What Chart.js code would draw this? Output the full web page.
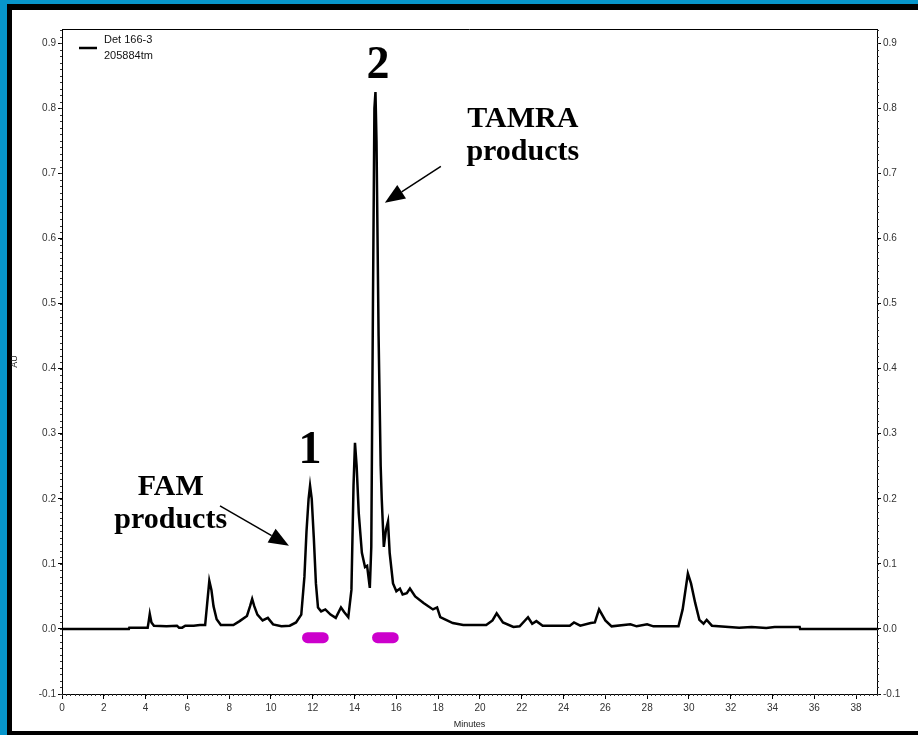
<!DOCTYPE html>
<html>
<head>
<meta charset="utf-8">
<script src="https://cdn.jsdelivr.net/npm/chart.js@4.4.1/dist/chart.umd.min.js"></script>
<style>
  html, body { margin: 0; padding: 0; }
  body { width: 918px; height: 735px; background: #0796cb; position: relative; overflow: hidden; }
  .frame { position: absolute; left: 7px; top: 4px; width: 920px; height: 721px;
           border-left: 5px solid #000; border-top: 6px solid #000; border-bottom: 4px solid #000; background: #fff; }
  canvas { position: absolute; left: 0; top: 0; }
</style>
</head>
<body>
<div class="frame"></div>
<canvas id="chart" width="918" height="735"></canvas>
<script>
// trace (minutes, AU)
const minutes = [0, 3.2, 3.22, 4.1, 4.15, 4.2, 4.28, 4.4, 5.0, 5.5, 5.6, 5.75, 5.9, 6.3, 6.6, 6.85, 6.95, 7.05, 7.15, 7.25,
  7.4, 7.6, 8.2, 8.5, 8.85, 9.0, 9.1, 9.2, 9.35, 9.6, 9.85, 10.1, 10.5, 10.9, 11.2, 11.45, 11.6, 11.7, 11.8, 11.87,
  11.95, 12.05, 12.15, 12.25, 12.4, 12.6, 12.85, 13.1, 13.35, 13.5, 13.7, 13.85, 13.95, 14.02, 14.1, 14.2, 14.35, 14.5, 14.6, 14.73,
  14.8, 14.88, 14.95, 15.0, 15.05, 15.15, 15.25, 15.3, 15.4, 15.5, 15.6, 15.68, 15.84, 16.0, 16.17, 16.3, 16.5, 16.65, 16.9, 17.3,
  17.75, 17.95, 18.1, 18.3, 18.7, 19.2, 20.3, 20.6, 20.8, 21.1, 21.6, 21.9, 22.3, 22.5, 22.7, 23.0, 24.3, 24.5, 24.8, 25.3,
  25.5, 25.7, 26.0, 26.3, 27.2, 27.5, 28.0, 28.3, 29.5, 29.7, 29.95, 30.1, 30.3, 30.5, 30.7, 30.85, 31.1, 32.4, 33.0, 33.7,
  34.1, 35.3, 35.32, 39];
const absorbance = [0, 0, 0.002, 0.002, 0.012, 0.023, 0.01, 0.005, 0.004, 0.005, 0.002, 0.002, 0.005, 0.005, 0.006, 0.006, 0.04, 0.074, 0.06, 0.035,
  0.015, 0.006, 0.006, 0.012, 0.02, 0.035, 0.046, 0.035, 0.022, 0.013, 0.017, 0.007, 0.004, 0.005, 0.01, 0.022, 0.08, 0.15, 0.2, 0.22,
  0.2, 0.14, 0.07, 0.033, 0.027, 0.03, 0.022, 0.017, 0.033, 0.026, 0.018, 0.06, 0.22, 0.286, 0.25, 0.178, 0.117, 0.095, 0.097, 0.063,
  0.126, 0.5, 0.8, 0.825, 0.75, 0.45, 0.25, 0.2, 0.126, 0.152, 0.165, 0.117, 0.07, 0.058, 0.062, 0.053, 0.055, 0.062, 0.05, 0.04,
  0.03, 0.033, 0.018, 0.015, 0.009, 0.006, 0.006, 0.013, 0.024, 0.01, 0.003, 0.004, 0.018, 0.008, 0.012, 0.005, 0.005, 0.01, 0.005, 0.009,
  0.01, 0.03, 0.013, 0.004, 0.007, 0.004, 0.007, 0.004, 0.004, 0.03, 0.085, 0.07, 0.04, 0.014, 0.008, 0.014, 0.005, 0.002, 0.003, 0.0015,
  0.003, 0.003, 0, 0];

// collected fractions (magenta bars)
const fam_fraction = [11.75, 12.5];
const tamra_fraction = [15.1, 15.85];
const fraction_level = -0.0135;

const xTickValues = [0, 2, 4, 6, 8, 10, 12, 14, 16, 18, 20, 22, 24, 26, 28, 30, 32, 34, 36, 38];
const yTickValues = [-0.1, 0.0, 0.1, 0.2, 0.3, 0.4, 0.5, 0.6, 0.7, 0.8, 0.9];

const legendLines = ['Det 166-3', '205884tm'];
const peakLabels = [{ text: '1', x: 11.87, y: 0.255 }, { text: '2', x: 15.12, y: 0.846 }];
const noteLabels = [
  { lines: ['FAM', 'products'], x: 5.2, y: 0.206 },
  { lines: ['TAMRA', 'products'], x: 22.05, y: 0.771 },
];
const arrows = [
  { from: [7.56, 0.189], to: [10.86, 0.128] },
  { from: [18.13, 0.711], to: [15.45, 0.655] },
];

const axisFont = { family: '"Liberation Sans Narrow", "Arial Narrow", "Liberation Sans", sans-serif', size: 10 };
const serif = '"Liberation Serif", "Times New Roman", serif';

const decorations = {
  id: 'decorations',
  afterDraw(chart) {
    const { ctx, chartArea: a, scales } = chart;
    const xs = scales.x, yl = scales.y;
    ctx.save();
    // top frame line
    ctx.strokeStyle = '#000';
    ctx.lineWidth = 1;
    ctx.beginPath();
    ctx.moveTo(a.left, a.top + 0.5);
    ctx.lineTo(a.right, a.top + 0.5);
    ctx.stroke();
    // minor ticks
    ctx.strokeStyle = '#333';
    ctx.beginPath();
    for (let i = -10; i <= 92; i++) {
      const py = Math.round(yl.getPixelForValue(i / 100)) + 0.5;
      ctx.moveTo(a.left - 2, py); ctx.lineTo(a.left, py);
      ctx.moveTo(a.right, py); ctx.lineTo(a.right + 2, py);
    }
    for (let i = 0; i <= 195; i++) {
      const px = Math.round(xs.getPixelForValue(i / 5)) + 0.5;
      ctx.moveTo(px, a.bottom); ctx.lineTo(px, a.bottom + 2);
    }
    ctx.stroke();

    // legend
    ctx.strokeStyle = '#000';
    ctx.lineWidth = 2.5;
    ctx.beginPath();
    ctx.moveTo(a.left + 17, a.top + 19);
    ctx.lineTo(a.left + 35, a.top + 19);
    ctx.stroke();
    ctx.fillStyle = '#111';
    ctx.font = '11px ' + axisFont.family;
    ctx.textAlign = 'left';
    ctx.textBaseline = 'middle';
    legendLines.forEach((t, i) => ctx.fillText(t, a.left + 42, a.top + 11 + i * 16));

    // peak numbers
    ctx.fillStyle = '#000';
    ctx.textAlign = 'center';
    ctx.textBaseline = 'alphabetic';
    ctx.font = 'bold 46px ' + serif;
    peakLabels.forEach(p => ctx.fillText(p.text, xs.getPixelForValue(p.x), yl.getPixelForValue(p.y)));

    // notes
    ctx.font = 'bold 30px ' + serif;
    noteLabels.forEach(n => {
      n.lines.forEach((t, i) => ctx.fillText(t, xs.getPixelForValue(n.x), yl.getPixelForValue(n.y) + i * 33));
    });

    // arrows
    arrows.forEach(ar => {
      const x1 = xs.getPixelForValue(ar.from[0]), y1 = yl.getPixelForValue(ar.from[1]);
      const x2 = xs.getPixelForValue(ar.to[0]), y2 = yl.getPixelForValue(ar.to[1]);
      const ang = Math.atan2(y2 - y1, x2 - x1);
      const head = 20, half = 8;
      const bx = x2 - head * Math.cos(ang), by = y2 - head * Math.sin(ang);
      ctx.strokeStyle = '#000';
      ctx.lineWidth = 1.5;
      ctx.beginPath();
      ctx.moveTo(x1, y1);
      ctx.lineTo(bx, by);
      ctx.stroke();
      ctx.beginPath();
      ctx.moveTo(x2, y2);
      ctx.lineTo(bx + half * Math.sin(ang), by - half * Math.cos(ang));
      ctx.lineTo(bx - half * Math.sin(ang), by + half * Math.cos(ang));
      ctx.closePath();
      ctx.fill();
    });
    ctx.restore();
  }
};

const yAxis = (position, width) => ({
  type: 'linear',
  position,
  min: -0.1,
  max: 0.922,
  afterBuildTicks: s => { s.ticks = yTickValues.map(v => ({ value: v })); },
  afterFit: s => { s.width = width; },
  border: { display: true, color: '#000', width: 1 },
  grid: { drawOnChartArea: false, drawTicks: true, tickLength: 4, color: '#000' },
  ticks: { font: axisFont, color: '#333', padding: 2, callback: v => v.toFixed(1) },
});

new Chart(document.getElementById('chart'), {
  type: 'line',
  data: {
    datasets: [
      {
        label: 'Det 166-3',
        data: minutes.map((m, i) => ({ x: m, y: absorbance[i] })),
        borderColor: '#000',
        borderWidth: 2.5,
        pointRadius: 0,
        tension: 0,
        yAxisID: 'y',
      },
      {
        label: 'FAM fraction',
        data: fam_fraction.map(m => ({ x: m, y: fraction_level })),
        borderColor: '#cc00cc',
        borderWidth: 11,
        borderCapStyle: 'round',
        pointRadius: 0,
        yAxisID: 'y',
      },
      {
        label: 'TAMRA fraction',
        data: tamra_fraction.map(m => ({ x: m, y: fraction_level })),
        borderColor: '#cc00cc',
        borderWidth: 11,
        borderCapStyle: 'round',
        pointRadius: 0,
        yAxisID: 'y',
      },
    ],
  },
  options: {
    responsive: false,
    animation: false,
    layout: { padding: { top: 29, left: 0, right: 0, bottom: 0 } },
    plugins: { legend: { display: false }, tooltip: { enabled: false } },
    scales: {
      x: {
        type: 'linear',
        min: 0,
        max: 39,
        afterBuildTicks: s => { s.ticks = xTickValues.map(v => ({ value: v })); },
        afterFit: s => { s.height = 41; },
        border: { display: true, color: '#000', width: 1 },
        grid: { drawOnChartArea: false, drawTicks: true, tickLength: 5, color: '#000' },
        ticks: { font: axisFont, color: '#333', padding: 3, maxRotation: 0, autoSkip: false },
        title: { display: true, text: 'Minutes', font: { family: axisFont.family, size: 9 }, color: '#222', padding: { top: 0, bottom: 5.5 } },
      },
      y: Object.assign(yAxis('left', 62), {
        title: { display: true, text: 'AU', font: { family: axisFont.family, size: 9 }, color: '#222', padding: { top: 9, bottom: 0 } },
      }),
      y2: yAxis('right', 41),
    },
  },
  plugins: [decorations],
});
</script>
</body>
</html>
